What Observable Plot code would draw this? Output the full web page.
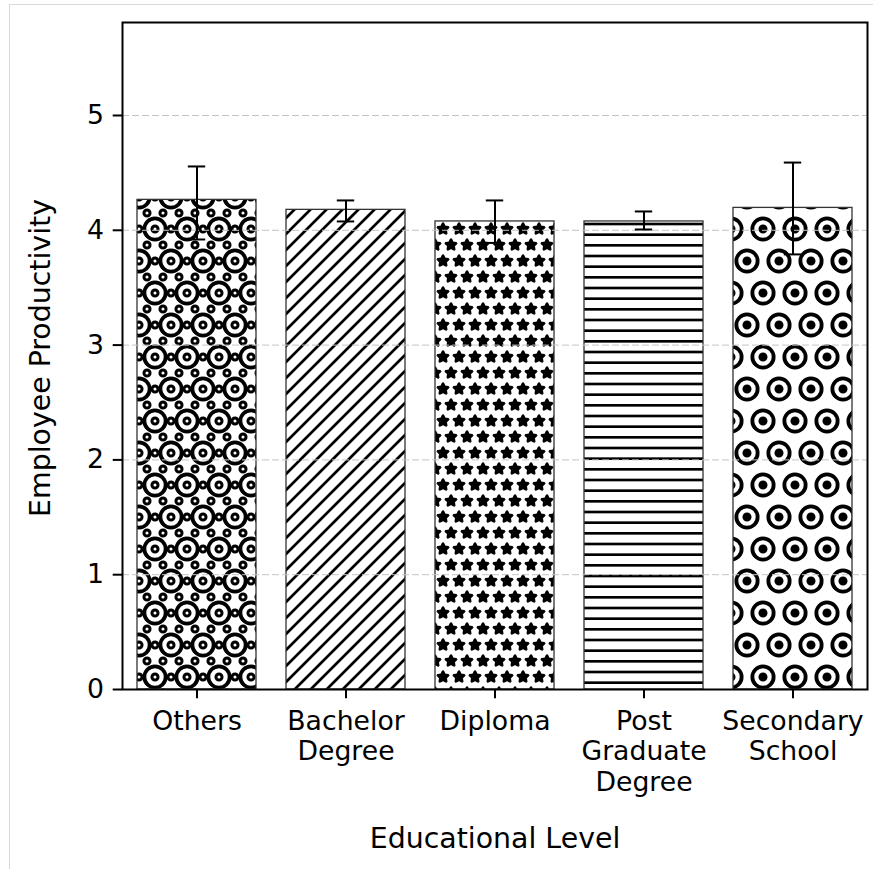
<!DOCTYPE html>
<html><head><meta charset="utf-8">
<script src="https://cdn.jsdelivr.net/npm/d3@7"></script>
<script src="https://cdn.jsdelivr.net/npm/@observablehq/plot@0.6"></script>
<style>
html,body{margin:0;padding:0;background:#fff;}
#wrap{position:relative;width:873px;height:869px;overflow:hidden;}
#border{position:absolute;left:9px;top:4px;width:900px;height:900px;border-left:1px solid #d9d9d9;border-top:1px solid #d9d9d9;pointer-events:none;}
</style></head><body>
<div id="wrap"><div id="chart"></div><div id="border"></div></div>
<script>
const categories = ["Others", "Bachelor Degree", "Diploma", "Post Graduate Degree", "Secondary School"];
const tickLabels = ["Others", "Bachelor\nDegree", "Diploma", "Post\nGraduate\nDegree", "Secondary\nSchool"];
const means = [4.265, 4.178, 4.077, 4.077, 4.195];
const errLow = [3.92, 4.077, 3.89, 4.007, 3.79];
const errHigh = [4.556, 4.26, 4.26, 4.164, 4.59];
const hatches = ["rings", "diagonal", "stars", "horizontal", "ringdots"];
const yTicks = [0, 1, 2, 3, 4, 5];
const xLabel = "Educational Level";
const yLabel = "Employee Productivity";

const data = categories.map((c, i) => ({
  category: c, mean: means[i], lo: errLow[i], hi: errHigh[i],
  pattern: `url(#hatch-${hatches[i]})`
}));

const chart = Plot.plot({
  width: 873, height: 869,
  marginLeft: 122, marginRight: 6, marginTop: 22, marginBottom: 180,
  style: {fontFamily: "DejaVu Sans", background: "white", color: "black"},
  x: {domain: categories, paddingInner: 0.2, paddingOuter: 0.1, label: null},
  y: {domain: [0, 5.81], label: null},
  color: {type: "identity"},
  marks: [
    Plot.barY(data, {x: "category", y: "mean", fill: "pattern", stroke: "#333", strokeWidth: 1.3}),
    Plot.gridY(yTicks.slice(1), {stroke: "#c4c4c4", strokeOpacity: 1, strokeDasharray: "7,3", strokeWidth: 1}),
    Plot.ruleX(data, {x: "category", y1: "lo", y2: "hi", stroke: "black", strokeWidth: 2}),
    Plot.tickY(data, {x: "category", y: "hi", stroke: "black", strokeWidth: 2, insetLeft: 50.8, insetRight: 50.8}),
    Plot.tickY(data, {x: "category", y: "lo", stroke: "black", strokeWidth: 2, insetLeft: 50.8, insetRight: 50.8}),
    Plot.frame({stroke: "black", strokeWidth: 2}),
    Plot.axisY({ticks: yTicks, tickFormat: d => String(d), tickSize: 9.3, tickPadding: 9.3, fontSize: 26.7, strokeWidth: 2, label: null}),
    Plot.axisX({tickSize: 9.3, tickPadding: 9, fontSize: 26.7, strokeWidth: 2, label: null,
      tickFormat: c => tickLabels[categories.indexOf(c)], lineHeight: 1.15}),
    Plot.text([yLabel], {text: d => d, frameAnchor: "left", textAnchor: "middle", rotate: -90, dx: -81.4, dy: 2, fontSize: 28.4}),
    Plot.text([xLabel], {text: d => d, frameAnchor: "bottom", textAnchor: "middle", dy: 158, fontSize: 28.4})
  ]
});

(function addPatterns(svg) {
  const defs = d3.select(svg).insert("defs", ":first-child");
  const lw = 2.67;
  function pat(id, x, y, w, h) {
    const p = defs.append("pattern").attr("id", id).attr("patternUnits", "userSpaceOnUse")
      .attr("x", x).attr("y", y).attr("width", w).attr("height", h);
    p.append("rect").attr("width", w).attr("height", h).attr("fill", "white");
    return p;
  }
  const big = [[0,0],[32,0],[0,64],[32,64],[16,32]];
  const small = [[0,0],[16,0],[32,0],[8,16],[24,16],[0,32],[16,32],[32,32],[8,48],[24,48],[0,64],[16,64],[32,64]];
  // Others: large rings + small rings
  let p = pat("hatch-rings", 27, 37, 32, 64);
  big.forEach(([x, y]) => p.append("circle").attr("cx", x).attr("cy", y).attr("r", 10.64)
    .attr("fill", "none").attr("stroke", "black").attr("stroke-width", 3.8));
  small.forEach(([x, y]) => p.append("circle").attr("cx", x).attr("cy", y).attr("r", 3.04)
    .attr("fill", "none").attr("stroke", "black").attr("stroke-width", 3.0));
  // Secondary: large rings + dots
  p = pat("hatch-ringdots", 27, 37, 32, 64);
  big.forEach(([x, y]) => {
    p.append("circle").attr("cx", x).attr("cy", y).attr("r", 10.64)
      .attr("fill", "none").attr("stroke", "black").attr("stroke-width", 3.8);
    p.append("circle").attr("cx", x).attr("cy", y).attr("r", 3.2)
      .attr("fill", "black").attr("stroke", "black").attr("stroke-width", lw);
  });
  // Stars
  p = pat("hatch-stars", 11, 5, 16, 32);
  const R = 16 / 3;
  const starPts = d3.range(10).map(k => {
    const th = Math.PI / 5 * k + Math.PI / 2;
    const r = k % 2 === 0 ? R : R * 0.5;
    return [r * Math.cos(th), -r * Math.sin(th)];
  });
  [[0,0],[16,0],[0,32],[16,32],[8,16]].forEach(([x, y]) => {
    p.append("path").attr("d", "M" + starPts.map(([a, b]) => `${(x + a).toFixed(2)},${(y + b).toFixed(2)}`).join("L") + "Z")
      .attr("fill", "black").attr("stroke", "black").attr("stroke-width", lw).attr("stroke-linejoin", "round");
  });
  // Diagonal
  p = pat("hatch-diagonal", 0, 0, 16, 16);
  p.append("path").attr("d", "M-2,10L10,-2M6,18L18,6").attr("stroke", "black").attr("stroke-width", lw).attr("fill", "none");
  // Horizontal
  p = pat("hatch-horizontal", 0, 0, 16, 32);
  [0, 32 / 3, 64 / 3, 32].forEach(y => p.append("line").attr("x1", -1).attr("x2", 17).attr("y1", y).attr("y2", y)
    .attr("stroke", "black").attr("stroke-width", lw));
})(chart);

document.getElementById("chart").appendChild(chart);
</script>
</body></html>
